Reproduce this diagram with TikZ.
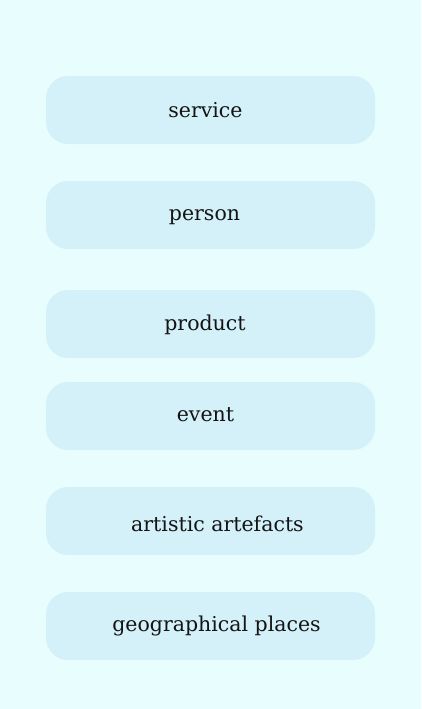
\documentclass[tikz,border=0pt]{standalone}
\usepackage{fontspec}
\setmainfont{DejaVu Serif}
\definecolor{bgc}{HTML}{E8FDFD}
\definecolor{boxc}{HTML}{D4F1F9}
\definecolor{txt}{HTML}{141414}
\begin{document}
\begin{tikzpicture}[x=1pt,y=-1pt,
  cat/.style={fill=boxc,draw=none,rounded corners=22pt,minimum width=329pt,minimum height=68pt,inner sep=0pt},
  lbl/.style={font=\fontsize{20.5}{24}\selectfont,text=txt,inner sep=0pt,anchor=base}]
\fill[bgc] (0,0) rectangle (421,709);
\useasboundingbox (0,0) rectangle (421,709);
\node[cat] (b1) at (210.5,110) {};
\node[cat] (b2) at (210.5,215) {};
\node[cat] (b3) at (210.5,324) {};
\node[cat] (b4) at (210.5,416) {};
\node[cat] (b5) at (210.5,521) {};
\node[cat] (b6) at (210.5,626) {};
\node[lbl] (t1) at (205.5,117.5) {service};
\node[lbl] (t2) at (204.5,220.5) {person};
\node[lbl] (t3) at (205,330) {product};
\node[lbl] (t4) at (205.5,421.5) {event};
\node[lbl] (t5) at (217.5,531) {artistic artefacts};
\node[lbl] (t6) at (216.5,631.5) {geographical places};
\end{tikzpicture}
\end{document}
